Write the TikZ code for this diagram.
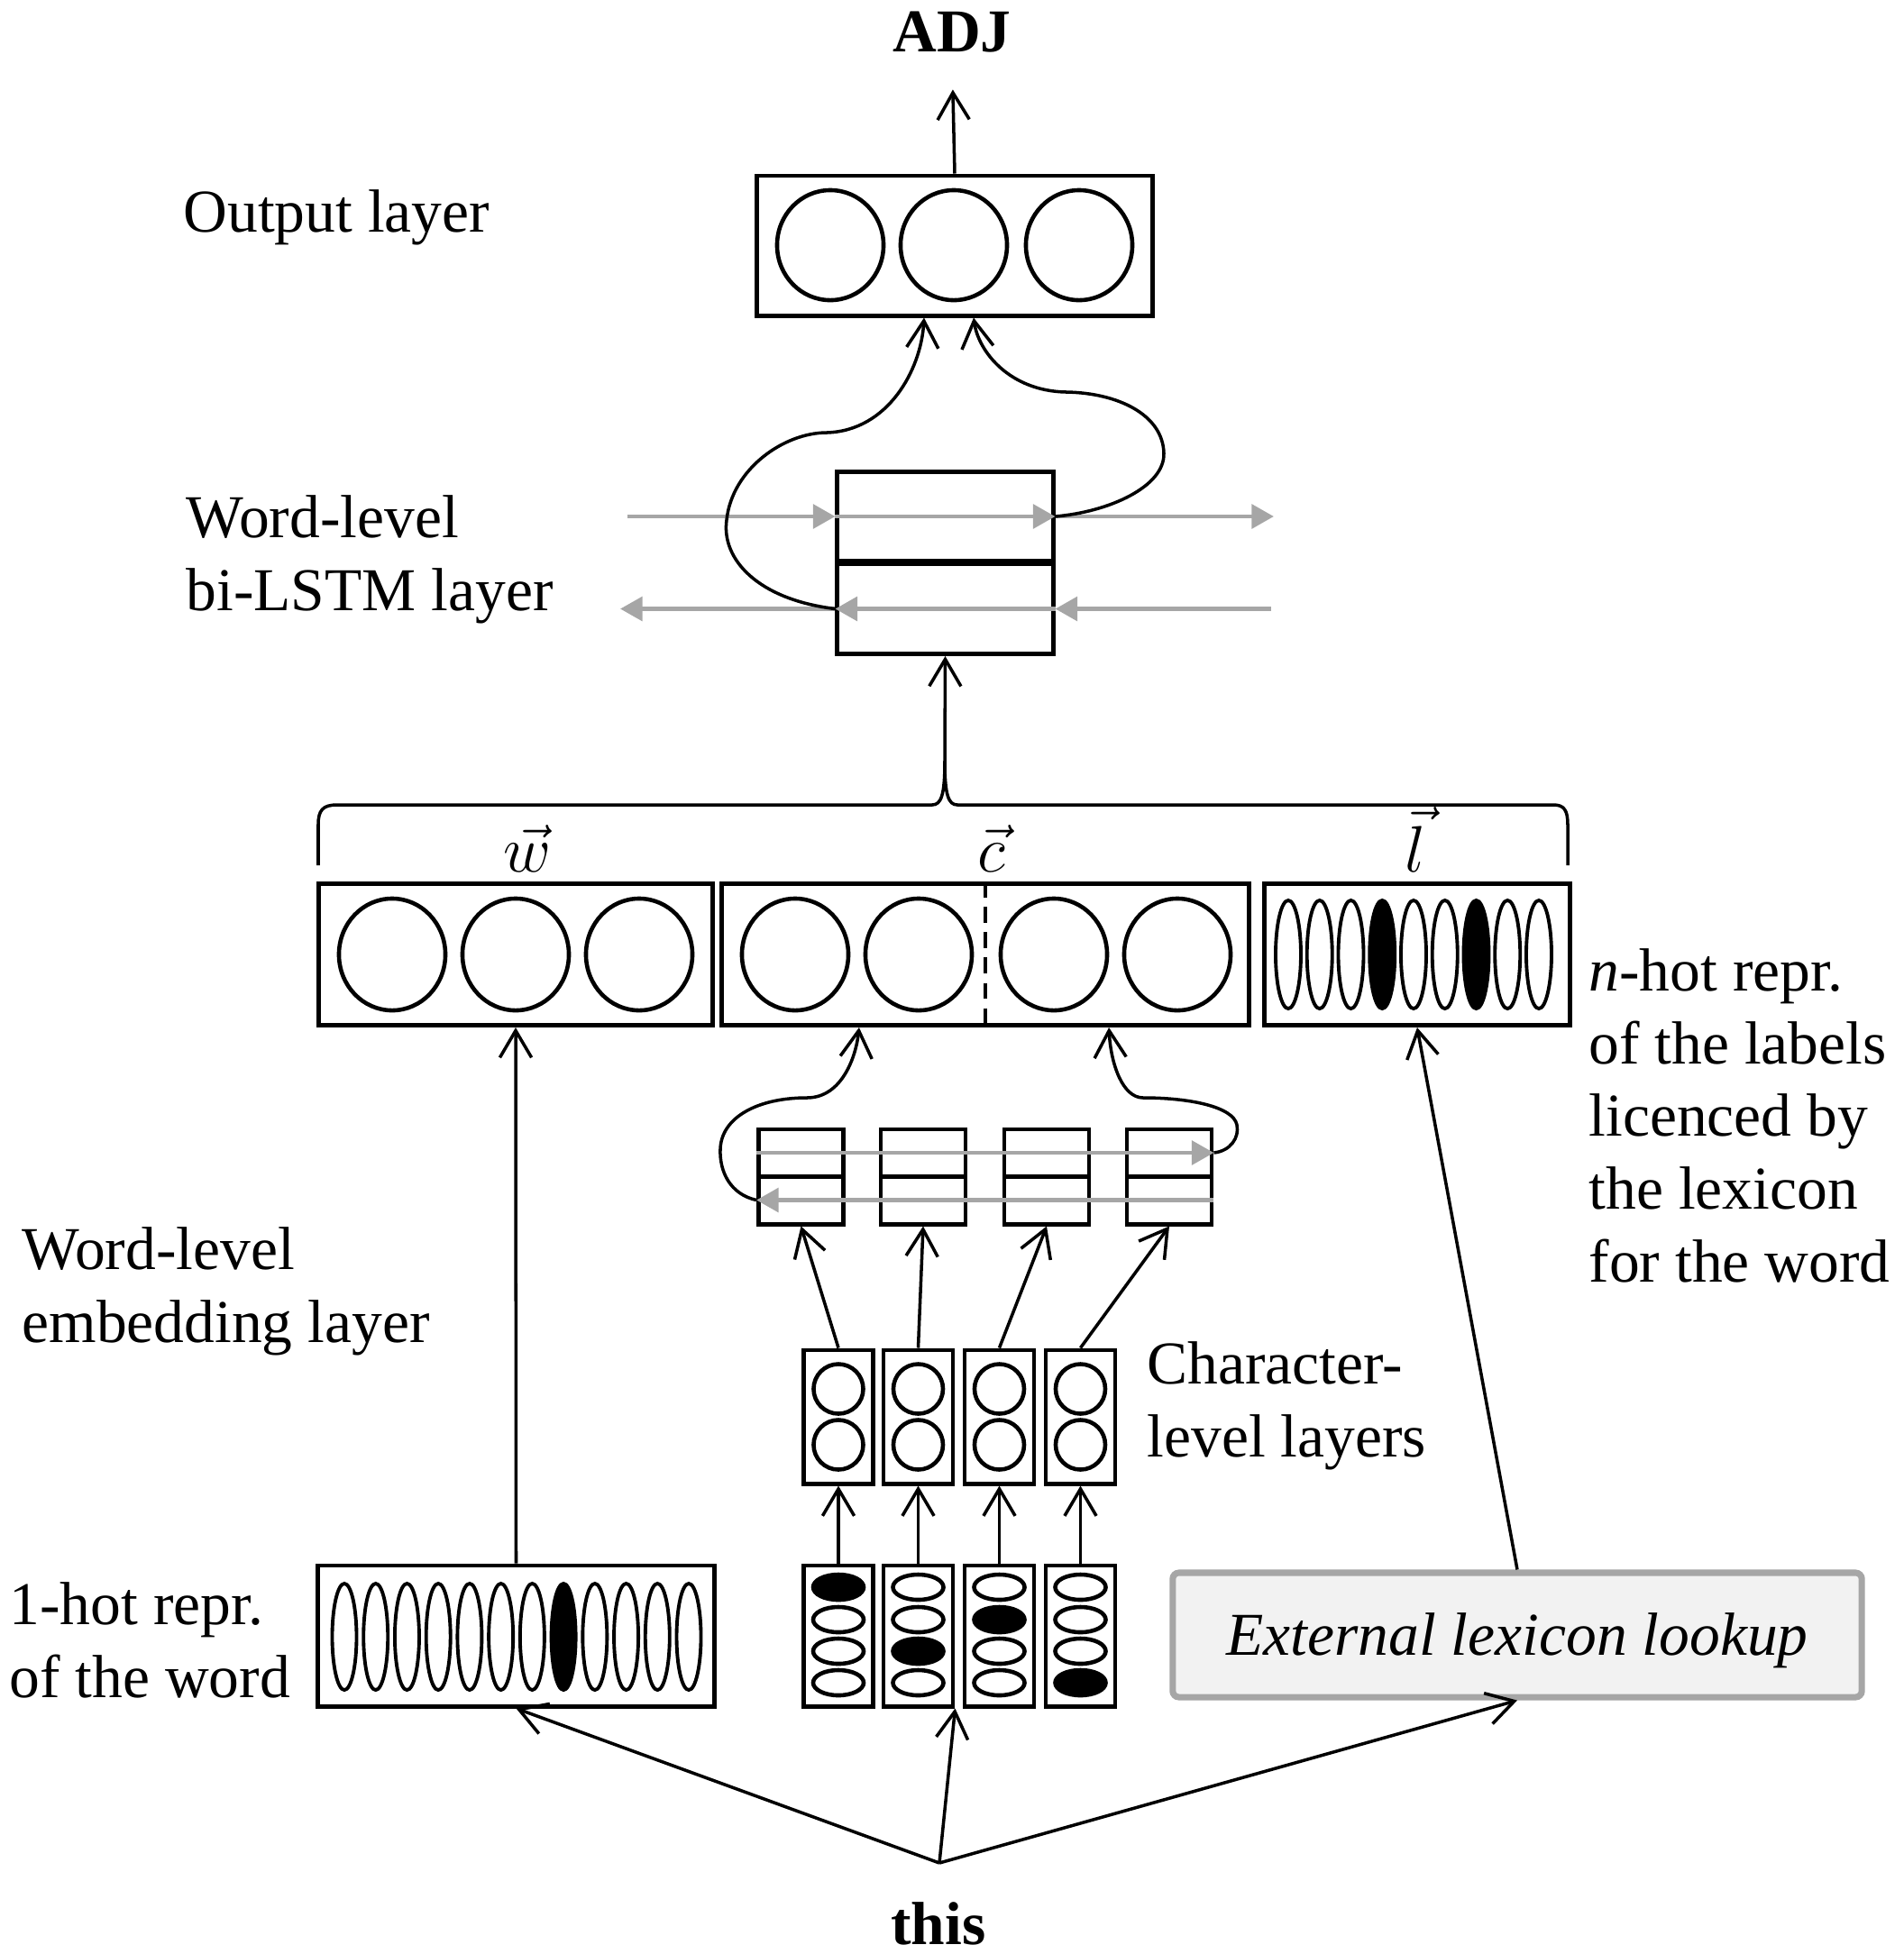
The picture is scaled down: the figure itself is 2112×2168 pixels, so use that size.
\documentclass[tikz,border=0pt]{standalone}
\usepackage{fontspec}
\setmainfont{Liberation Serif}
\usetikzlibrary{arrows.meta,shapes.geometric,calc}
\definecolor{flowgray}{HTML}{A6A6A6}
\definecolor{lookupfill}{HTML}{F2F2F2}
\begin{document}
\begin{tikzpicture}[x=0.01cm,y=-0.01cm,
  txt/.style={font=\fontsize{19.2pt}{22.9pt}\selectfont, inner sep=0pt, align=left},
  boldtxt/.style={font=\fontsize{19.2pt}{22.9pt}\selectfont\bfseries, inner sep=0pt},
  vectxt/.style={font=\fontsize{21pt}{24pt}\selectfont, inner sep=0pt},
  layerbox/.style={draw, line width=1.4pt, rectangle, inner sep=0pt},
  unit/.style={draw, line width=1.3pt, ellipse, inner sep=0pt},
  thinunit/.style={draw, line width=1.1pt, ellipse, inner sep=0pt},
  conn/.style={draw, line width=1pt, -{Straight Barb[length=8.5pt,width=10pt]}},
  flow/.style={color=flowgray, line width=1.4pt, -{Triangle[length=7pt,width=7.5pt]}},
]
\useasboundingbox (0,0) rectangle (2112,2168);

% ---------- output layer ----------
\node[layerbox, minimum width=4.38cm, minimum height=1.55cm] (out) at (1059,272.5) {};
\foreach \i/\x in {1/921,2/1058,3/1197}
  \node[unit, minimum width=1.18cm, minimum height=1.22cm] (out-\i) at (\x,272) {};
\node[boldtxt, anchor=base] (adj) at (1056,57) {ADJ};
\draw[conn, shorten >=0.41cm] (out.north) -- (adj.south);
\node[txt, anchor=base west] (lbl-out) at (203,257) {Output layer};

% ---------- word-level bi-LSTM ----------
\node[layerbox, minimum width=2.39cm, minimum height=0.99cm] (lstm-f) at (1048.5,573) {};
\node[layerbox, minimum width=2.39cm, minimum height=1.00cm] (lstm-b) at (1048.5,675.5) {};
\node[txt, anchor=base west] (lbl-lstm) at (206,677) {Word-level\\bi-LSTM layer};

\coordinate (fw-in)  at (696,573);
\coordinate (fw-out) at (1413,573);
\coordinate (bw-in)  at (1410,675.5);
\coordinate (bw-out) at (688,675.5);
\draw[flow] (fw-in) -- (lstm-f.west);
\draw[flow] (lstm-f.west) -- (lstm-f.east);
\draw[flow] (lstm-f.east) -- (fw-out);
\draw[flow] (bw-in) -- (lstm-b.east);
\draw[flow] (lstm-b.east) -- (lstm-b.west);
\draw[flow] (lstm-b.west) -- (bw-out);

\draw[conn] (lstm-b.west) .. controls (840,665) and (800,620) .. (806,577)
  .. controls (812,520) and (870,480) .. (917,480)
  .. controls (985,478) and (1022,410) .. ([xshift=-0.34cm]out.south);
\draw[conn] (lstm-f.east) .. controls (1230,568) and (1292,540) .. (1291,503)
  .. controls (1290,460) and (1240,436) .. (1183,435)
  .. controls (1120,434) and (1085,390) .. ([xshift=0.21cm]out.south);

% ---------- concatenated word representation ----------
\draw[line width=1pt] (353,960) -- (353,915) .. controls (353,899) and (358,893) .. (374,893)
  -- (1034,893) .. controls (1044,893) and (1048,882) .. (1048,845)
  .. controls (1048,882) and (1052,893) .. (1062,893)
  -- (1723,893) .. controls (1735,893) and (1739,899) .. (1739,915) -- (1739,960);
\coordinate (brace-tip) at (1048,845);
\draw[conn] (brace-tip) -- (lstm-b.south);

\node[vectxt, anchor=base] (lbl-w) at (585,967) {$\vec{w}$};
\node[vectxt, anchor=base] (lbl-c) at (1100,967) {$\vec{c}$};
\node[vectxt, anchor=base] (lbl-l) at (1570,967) {$\vec{l}$};

\node[layerbox, minimum width=4.37cm, minimum height=1.57cm] (wvec) at (572,1059) {};
\node[layerbox, minimum width=5.84cm, minimum height=1.57cm] (cvec) at (1093,1059) {};
\node[layerbox, minimum width=3.38cm, minimum height=1.57cm] (lvec) at (1572,1059) {};
\foreach \i/\x in {1/435,2/572,3/709}
  \node[unit, minimum width=1.18cm, minimum height=1.24cm] (wu-\i) at (\x,1059) {};
\foreach \i/\x in {1/882,2/1019,3/1169,4/1306}
  \node[unit, minimum width=1.18cm, minimum height=1.24cm] (cu-\i) at (\x,1059) {};
\draw[line width=1pt, dash pattern=on 5pt off 3pt] (cvec.north) -- (cvec.south);
\foreach \i/\f in {0/white,1/white,2/white,3/black,4/white,5/white,6/black,7/white,8/white}
  \node[thinunit, fill=\f, minimum width=0.28cm, minimum height=1.20cm] (lu-\i) at (1429+34.75*\i,1059) {};

\node[txt, anchor=base west] (lbl-nhot) at (1762,1422)
  {\textit{n}-hot repr.\\of the labels\\licenced by\\the lexicon\\for the word};

% ---------- character-level bi-LSTM ----------
\foreach \i/\x in {1/888.5,2/1024,3/1161,4/1297} {
  \node[layerbox, minimum width=0.94cm, minimum height=0.52cm] (cf-\i) at (\x,1279) {};
  \node[layerbox, minimum width=0.94cm, minimum height=0.53cm] (cb-\i) at (\x,1331.5) {};
}
\draw[flow] (cf-1.west) -- (cf-4.east);
\draw[flow] (cb-4.east) -- (cb-1.west);
\draw[conn] (cb-1.west) .. controls (810,1325) and (798,1300) .. (799,1275)
  .. controls (800,1240) and (840,1218) .. (895,1218)
  .. controls (935,1218) and (950,1170) .. ([xshift=-1.40cm]cvec.south);
\draw[conn] (cf-4.east) .. controls (1365,1277) and (1375,1262) .. (1372,1248)
  .. controls (1368,1228) and (1320,1218) .. (1268,1218)
  .. controls (1245,1218) and (1232,1180) .. ([xshift=1.37cm]cvec.south);

% ---------- character embeddings and character 1-hot vectors ----------
\foreach \i/\x/\h in {1/930/0,2/1018.5/2,3/1108.5/1,4/1198.5/3} {
  \node[layerbox, minimum width=0.77cm, minimum height=1.48cm] (chid-\i) at (\x,1572) {};
  \node[unit, minimum size=0.55cm] (chid-\i-a) at (\x,1541) {};
  \node[unit, minimum size=0.55cm] (chid-\i-b) at (\x,1603) {};
  \node[layerbox, minimum width=0.77cm, minimum height=1.56cm] (chin-\i) at (\x,1815) {};
  \foreach \j/\y in {0/1761,1/1797,2/1832,3/1867} {
    \ifnum\j=\h
      \node[unit, fill=black, minimum width=0.56cm, minimum height=0.28cm] (chin-\i-\j) at (\x,\y) {};
    \else
      \node[unit, minimum width=0.56cm, minimum height=0.28cm] (chin-\i-\j) at (\x,\y) {};
    \fi
  }
  \draw[conn] (chin-\i.north) -- (chid-\i.south);
  \draw[conn] (chid-\i.north) -- (cb-\i.south);
}
\node[txt, anchor=base west] (lbl-char) at (1272,1616) {Character-\\level layers};

% ---------- word 1-hot vector ----------
\node[layerbox, minimum width=4.39cm, minimum height=1.56cm] (onehot) at (572.5,1815) {};
\foreach \i/\f in {0/white,1/white,2/white,3/white,4/white,5/white,6/white,7/black,8/white,9/white,10/white,11/white}
  \node[thinunit, fill=\f, minimum width=0.27cm, minimum height=1.18cm] (oh-\i) at (382+34.73*\i,1816) {};
\draw[conn] (onehot.north) -- (wvec.south);
\node[txt, anchor=base west] (lbl-emb) at (24,1489) {Word-level\\embedding layer};
\node[txt, anchor=base west] (lbl-onehot) at (10,1883) {1-hot repr.\\of the word};

% ---------- external lexicon ----------
\node[draw=flowgray, line width=2pt, fill=lookupfill, rounded corners=2pt,
      minimum width=7.64cm, minimum height=1.38cm, inner sep=0pt,
      text height=14.4pt, text depth=1.7pt,
      font=\fontsize{19.2pt}{22.9pt}\selectfont\itshape] (lookup) at (1683,1814) {External lexicon lookup};
\draw[conn] (lookup.north) -- (lvec.south);

% ---------- input word ----------
\node[boldtxt, anchor=base] (this) at (1041,2157) {this};
\coordinate (root) at (1042,2067);
\draw[conn] (root) -- (onehot.south);
\draw[conn] (root) -- (chin-2.south east);
\draw[conn] (root) -- (lookup.south);

\end{tikzpicture}
\end{document}
